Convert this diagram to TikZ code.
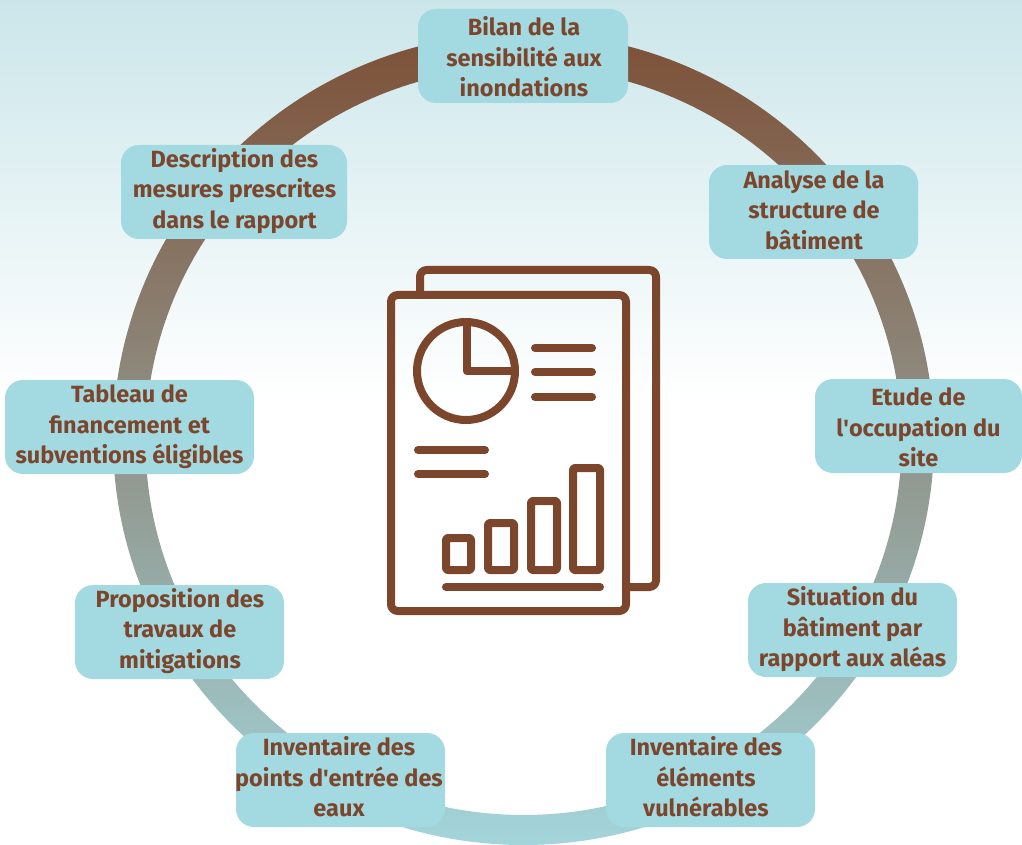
\documentclass[tikz,border=0pt]{standalone}
\usepackage{fontspec}
\setmainfont{Fira Sans}
\definecolor{txtbrown}{HTML}{7C462D}
\definecolor{boxteal}{HTML}{A3DAE1}
\definecolor{ringtop}{HTML}{7D5037}
\definecolor{ringbot}{HTML}{A3D5DA}
\definecolor{bgtop}{HTML}{CBE6EA}
\tikzset{
  stepbox/.style={fill=boxteal,rounded corners=13.5pt,inner sep=0pt,minimum height=70.5pt,minimum width=#1*0.75pt},
  stepbox/.default=209,
  steptext/.style={inner sep=0pt,align=center,text=txtbrown,font=\fontsize{17.6}{22.9}\selectfont\bfseries},
  icon/.style={draw=txtbrown,line width=6pt,line join=round,rounded corners=5pt},
  iconline/.style={draw=txtbrown,line width=6pt,line cap=round}
}
\begin{document}
\begin{tikzpicture}[x=0.75pt,y=-0.75pt]
\useasboundingbox (0,0) rectangle (1022,845);
\shade[top color=bgtop,bottom color=white] (0,0) rectangle (1022,400);
% ring
\shade[even odd rule,top color=ringtop,bottom color=ringbot]
  (523.5,439) ellipse [x radius=410.5,y radius=406]
  (523.5,441) ellipse [x radius=378,y radius=374];
% icon
\draw[icon] (420,295) -- (420,270) -- (656,270) -- (656,587) -- (626,587);
\draw[icon] (391,295) rectangle (626,611);
\draw[draw=txtbrown,line width=6pt] (466,371) circle [radius=49];
\draw[draw=txtbrown,line width=6pt,line join=round] (466.5,324) -- (466.5,371) -- (515,371);
\draw[iconline] (535,348) -- (592,348);
\draw[iconline] (535,372) -- (592,372);
\draw[iconline] (535,397) -- (592,397);
\draw[iconline] (418,450) -- (485,450);
\draw[iconline] (418,474) -- (485,474);
\draw[icon,rounded corners=1.5pt] (446,538) rectangle (471,570);
\draw[icon,rounded corners=1.5pt] (488,523) rectangle (514,570);
\draw[icon,rounded corners=1.5pt] (531,501) rectangle (557,570);
\draw[icon,rounded corners=1.5pt] (573,468) rectangle (600,570);
\draw[iconline] (446,587) -- (600,587);
% boxes
\node[stepbox=210] (bilan) at (523,56) {};
\node[steptext] (bilantext) at (524,57) {Bilan de la\\sensibilité aux\\inondations};
\node[stepbox] (analyse) at (813.5,212) {};
\node[steptext] (analysetext) at (814,210) {Analyse de la\\structure de\\bâtiment};
\node[stepbox=207] (etude) at (918.5,426) {};
\node[steptext] (etudetext) at (918.5,427.5) {Etude de\\l\textquotesingle occupation du\\site};
\node[stepbox] (situation) at (852.5,630) {};
\node[steptext] (situationtext) at (852.5,629.5) {Situation du\\bâtiment par\\rapport aux aléas};
\node[stepbox] (elements) at (710.5,780) {};
\node[steptext] (elementstext) at (706,777) {Inventaire des\\éléments\\vulnérables};
\node[stepbox] (points) at (340.5,780) {};
\node[steptext] (pointstext) at (339,777) {Inventaire des\\points d\textquotesingle entrée des\\eaux};
\node[stepbox] (proposition) at (179.5,632) {};
\node[steptext] (propositiontext) at (180,631) {Proposition des\\travaux de\\mitigations};
\node[stepbox=249] (tableau) at (129.5,427) {};
\node[steptext] (tableautext) at (129.5,427) {Tableau de\\financement et\\subventions éligibles};
\node[stepbox=226] (description) at (234,192) {};
\node[steptext] (descriptiontext) at (234.5,191) {Description des\\mesures prescrites\\dans le rapport};
\end{tikzpicture}
\end{document}
